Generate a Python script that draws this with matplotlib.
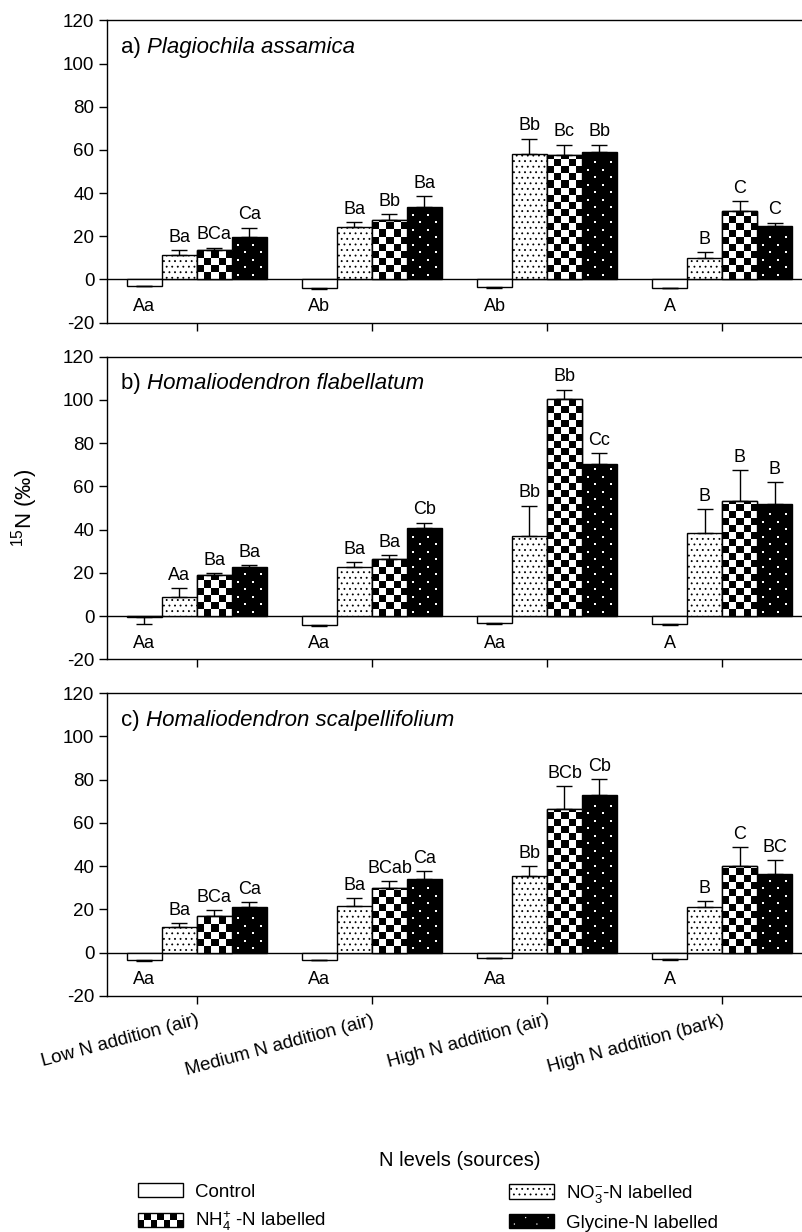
import numpy as np
import matplotlib.pyplot as plt
from matplotlib.patches import Rectangle, Patch, Circle

plt.rcParams['font.family'] = ['Liberation Sans', 'DejaVu Sans']
plt.rcParams['mathtext.default'] = 'regular'
plt.rcParams['axes.unicode_minus'] = False
plt.rcParams['hatch.linewidth'] = 0.6

levels = ['Low N addition (air)', 'Medium N addition (air)',
          'High N addition (air)', 'High N addition (bark)']
treatments = ['Control', 'NO$_3^{-}$-N labelled',
              'NH$_4^{+}$ -N labelled', 'Glycine-N labelled']
species = ['Plagiochila assamica', 'Homaliodendron flabellatum',
           'Homaliodendron scalpellifolium']
panel_tags = ['a)', 'b)', 'c)']

# rows = N levels, columns = Control, NO3, NH4, Glycine
mean_a = np.array([[-2.9, 11.4, 13.8, 19.8],
                   [-4.0, 24.1, 27.5, 33.4],
                   [-3.7, 58.0, 57.6, 59.0],
                   [-3.9, 10.0, 31.5, 24.9]])
err_a = np.array([[0.3, 2.3, 0.9, 4.2],
                  [0.3, 2.5, 2.8, 5.1],
                  [0.2, 7.2, 4.8, 3.4],
                  [0.3, 2.8, 4.9, 1.4]])
let_a = [['Aa', 'Ba', 'BCa', 'Ca'],
         ['Ab', 'Ba', 'Bb', 'Ba'],
         ['Ab', 'Bb', 'Bc', 'Bb'],
         ['A', 'B', 'C', 'C']]

mean_b = np.array([[-0.5, 8.6, 19.1, 22.8],
                   [-4.2, 22.5, 26.3, 40.5],
                   [-3.2, 36.8, 100.3, 70.5],
                   [-3.8, 38.2, 53.2, 51.8]])
err_b = np.array([[3.3, 4.5, 0.9, 0.8],
                  [0.3, 2.4, 1.9, 2.7],
                  [0.4, 14.3, 4.5, 5.0],
                  [0.3, 11.3, 14.2, 10.0]])
let_b = [['Aa', 'Aa', 'Ba', 'Ba'],
         ['Aa', 'Ba', 'Ba', 'Cb'],
         ['Aa', 'Bb', 'Bb', 'Cc'],
         ['A', 'B', 'B', 'B']]

mean_c = np.array([[-3.4, 12.0, 17.2, 21.2],
                   [-3.4, 21.5, 30.0, 34.2],
                   [-2.3, 35.7, 66.3, 73.1],
                   [-3.1, 21.1, 40.3, 36.3]])
err_c = np.array([[0.3, 1.7, 2.6, 2.2],
                  [0.2, 3.7, 3.2, 3.7],
                  [0.2, 4.3, 10.6, 7.2],
                  [0.4, 2.7, 8.5, 6.6]])
let_c = [['Aa', 'Ba', 'BCa', 'Ca'],
         ['Aa', 'Ba', 'BCab', 'Ca'],
         ['Aa', 'Bb', 'BCb', 'Cb'],
         ['A', 'B', 'C', 'BC']]

means = [mean_a, mean_b, mean_c]
errs = [err_a, err_b, err_c]
letters = [let_a, let_b, let_c]


class CheckerHandler:
    def legend_artist(self, legend, orig_handle, fontsize, handlebox):
        x0, y0 = -handlebox.xdescent, -handlebox.ydescent
        w, h = handlebox.width, handlebox.height
        tr = handlebox.get_transform()
        ncol, nrow = 7, 2
        handlebox.add_artist(Rectangle((x0, y0), w, h, facecolor='white',
                                       edgecolor='none', transform=tr))
        for i in range(nrow):
            for k in range(ncol):
                if (i + k) % 2 == 0:
                    handlebox.add_artist(Rectangle(
                        (x0 + k * w / ncol, y0 + i * h / nrow), w / ncol, h / nrow,
                        facecolor='black', edgecolor='none', transform=tr))
        frame = Rectangle((x0, y0), w, h, facecolor='none', edgecolor='black',
                          lw=1, transform=tr)
        handlebox.add_artist(frame)
        return frame


class DotHandler:
    def legend_artist(self, legend, orig_handle, fontsize, handlebox):
        x0, y0 = -handlebox.xdescent, -handlebox.ydescent
        w, h = handlebox.width, handlebox.height
        tr = handlebox.get_transform()
        frame = Rectangle((x0, y0), w, h, facecolor='black', edgecolor='black',
                          lw=1, transform=tr)
        handlebox.add_artist(frame)
        for fx, fy in [(0.12, 0.3), (0.37, 0.75), (0.62, 0.3), (0.87, 0.75)]:
            handlebox.add_artist(Circle((x0 + fx * w, y0 + fy * h), 0.5,
                                        facecolor='white', edgecolor='none',
                                        transform=tr))
        return frame


fig = plt.figure(figsize=(8.02, 12.32), dpi=100)
rects = [(0.134, 0.7382, 0.8778, 0.2453),
         (0.134, 0.4649, 0.8778, 0.2456),
         (0.134, 0.1916, 0.8778, 0.2457)]
width = 0.2
offsets = [-0.3, -0.1, 0.1, 0.3]
xlim = (-0.511, 3.511)
ylim = (-20, 120)
x = np.arange(len(levels))
fw, fh = fig.get_size_inches() * fig.dpi

for p in range(3):
    ax = fig.add_axes(rects[p])
    m, e = means[p], errs[p]
    ax.axhline(0, color='black', lw=1, zorder=1)
    px_x = rects[p][2] * fw / (xlim[1] - xlim[0])
    px_y = rects[p][3] * fh / (ylim[1] - ylim[0])

    xs = [x + off for off in offsets]
    ax.bar(xs[0], m[:, 0], width, color='white', edgecolor='black', lw=1, zorder=2)
    ax.bar(xs[1], m[:, 1], width, color='white', edgecolor='black', hatch='...',
           lw=1, zorder=2)
    nh4 = ax.bar(xs[2], m[:, 2], width, color='white', edgecolor='black', lw=1,
                 zorder=2)
    gly = ax.bar(xs[3], m[:, 3], width, color='black', edgecolor='black', lw=1,
                 zorder=2)

    # checkerboard fill for NH4 bars
    for bar in nh4:
        bx, bw, bh = bar.get_x(), bar.get_width(), bar.get_height()
        ncols = 5
        cell_y = (bw / ncols) * px_x / px_y
        nrows = int(np.ceil(abs(bh) / cell_y))
        checker = np.add.outer(np.arange(nrows), np.arange(ncols)) % 2
        im = ax.imshow(checker, cmap='gray_r', vmin=0, vmax=1, origin='lower',
                       extent=(bx, bx + bw, 0, nrows * cell_y * np.sign(bh)),
                       aspect='auto', interpolation='nearest', zorder=3)
        im.set_clip_path(bar)
    ax.bar(xs[2], m[:, 2], width, fill=False, edgecolor='black', lw=1, zorder=4)

    # sparse white dots for glycine bars (staggered lattice)
    dot_x, dot_y = [], []
    for bar in gly:
        bx, bw, bh = bar.get_x(), bar.get_width(), bar.get_height()
        row_step = 7.5 / px_y
        nrow = int((bh - 2.0 / px_y) / row_step)
        for r in range(nrow):
            yy = (r + 0.6) * row_step
            for k in range(r % 2, 4, 2):
                dot_x.append(bx + bw * (0.16 + 0.223 * k))
                dot_y.append(yy)
    ax.scatter(dot_x, dot_y, s=1.6, c='white', marker='s', linewidths=0,
               zorder=3.5)

    for j in range(4):
        lo = np.where(m[:, j] < 0, e[:, j], 0)
        up = np.where(m[:, j] >= 0, e[:, j], 0)
        ax.errorbar(xs[j], m[:, j], yerr=[lo, up], fmt='none', ecolor='black',
                    elinewidth=1, capsize=5.5, capthick=1, zorder=5)

    for i in range(4):
        ax.text(xs[0][i], -12.5, letters[p][i][0], ha='center', va='center',
                fontsize=13)
        for j in range(1, 4):
            ax.annotate(letters[p][i][j], (xs[j][i], m[i, j] + e[i, j]),
                        xytext=(0, 3), textcoords='offset points',
                        ha='center', va='bottom', fontsize=13)

    t1 = ax.text(0.019, 0.893, panel_tags[p] + ' ', transform=ax.transAxes,
                 fontsize=16, va='baseline')
    ax.annotate(species[p], xy=(1, 0), xycoords=t1, va='bottom',
                fontsize=16, style='italic')

    ax.set_xlim(*xlim)
    ax.set_ylim(*ylim)
    ax.set_yticks(np.arange(-20, 121, 20))
    ax.set_xticks(x)
    ax.tick_params(direction='out', length=5.5, width=1, labelsize=13.5, pad=4,
                   top=False, right=False)
    for s in ax.spines.values():
        s.set_linewidth(1)
    ax.spines['right'].set_visible(False)
    if p < 2:
        ax.tick_params(axis='x', labelbottom=False)
    else:
        ax.set_xticklabels(levels, rotation=15, ha='right',
                           rotation_mode='anchor', fontsize=13.5)
        ax.tick_params(axis='x', pad=6)

fig.text(25 / 802, 0.5877, '$^{15}$N (‰)', rotation=90, ha='center',
         va='center', fontsize=16)
fig.text(0.573, 0.0584, 'N levels (sources)', ha='center', va='center',
         fontsize=14.5)

h_ctrl = Patch(facecolor='white', edgecolor='black', lw=1)
h_no3 = Patch(facecolor='white', edgecolor='black', hatch='...', lw=1)
h_nh4 = Patch(facecolor='white', edgecolor='black', lw=1)
h_gly = Patch(facecolor='black', edgecolor='black', lw=1)

leg_kw = dict(loc='upper left', frameon=False, borderpad=0, borderaxespad=0,
              fontsize=13.5, handlelength=2.4, handleheight=0.8,
              handletextpad=0.64, labelspacing=0.48)
fig.legend([h_ctrl, h_nh4], [treatments[0], treatments[2]],
           bbox_to_anchor=(138 / 802, 1 - 1183 / 1232),
           handler_map={h_nh4: CheckerHandler()}, **leg_kw)
fig.legend([h_no3, h_gly], [treatments[1], treatments[3]],
           bbox_to_anchor=(509 / 802, 1 - 1183 / 1232),
           handler_map={h_gly: DotHandler()}, **leg_kw)

fig.savefig('out.png', dpi=100)
